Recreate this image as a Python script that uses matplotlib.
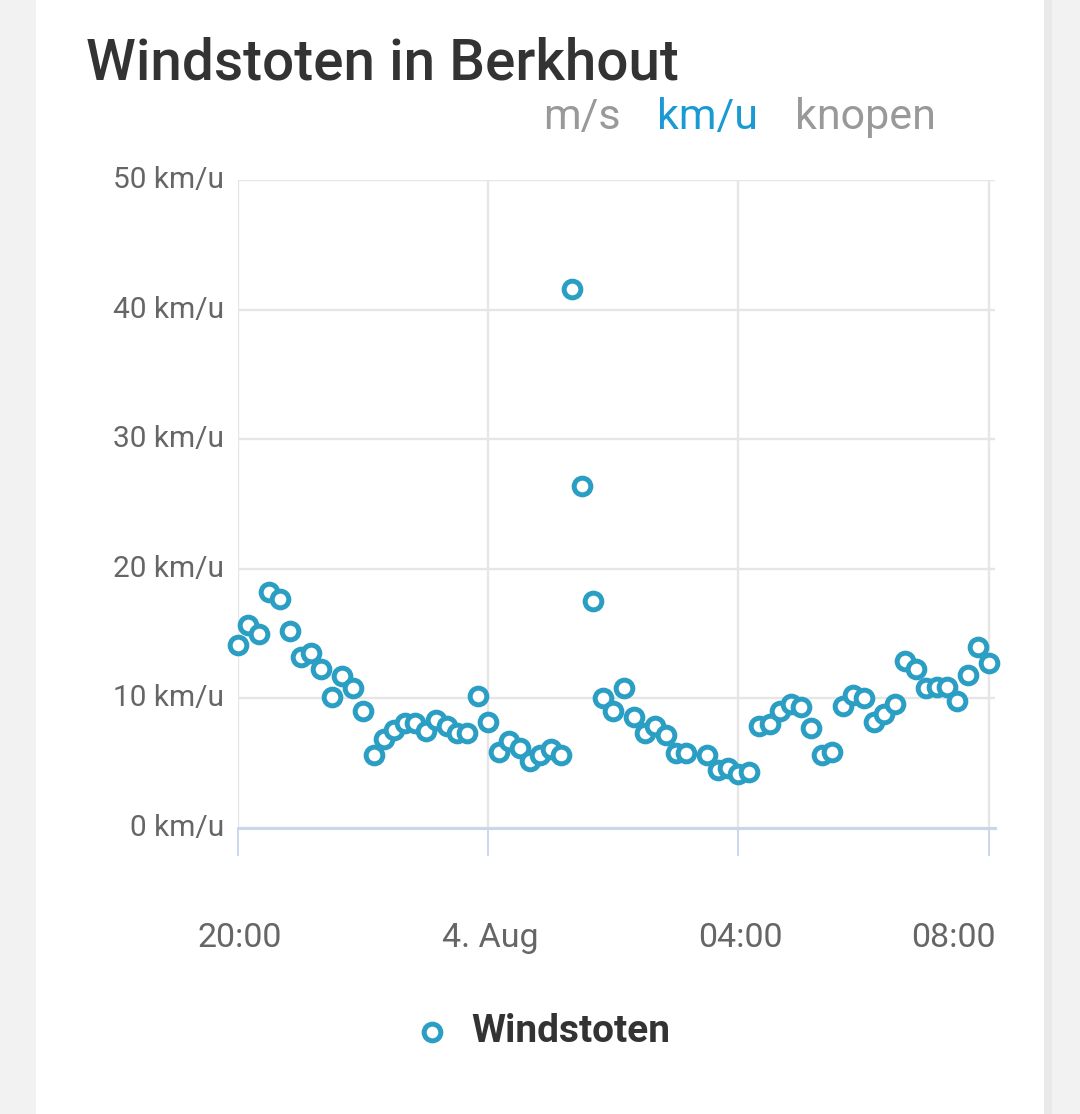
import matplotlib
matplotlib.use("Agg")
import matplotlib.pyplot as plt
import matplotlib.transforms as mtransforms
from matplotlib.patches import Rectangle
from matplotlib.lines import Line2D
import numpy as np

# ---------------- data ----------------
times = ["20:00", "20:10", "20:20", "20:30", "20:40", "20:50",
         "21:00", "21:10", "21:20", "21:30", "21:40", "21:50",
         "22:00", "22:10", "22:20", "22:30", "22:40", "22:50",
         "23:00", "23:10", "23:20", "23:30", "23:40", "23:50",
         "00:00", "00:10", "00:20", "00:30", "00:40", "00:50",
         "01:00", "01:10", "01:20", "01:30", "01:40", "01:50",
         "02:00", "02:10", "02:20", "02:30", "02:40", "02:50",
         "03:00", "03:10", "03:30", "03:40", "03:50",
         "04:00", "04:10", "04:20", "04:30", "04:40", "04:50",
         "05:00", "05:10", "05:20", "05:30", "05:40", "05:50",
         "06:00", "06:10", "06:20", "06:30", "06:40", "06:50",
         "07:00", "07:10", "07:20", "07:30", "07:40", "07:50",
         "08:00"]
gusts = [14.1, 15.7, 15.0, 18.2, 17.7, 15.2,
         13.2, 13.5, 12.3, 10.1, 11.7, 10.8,
         9.0, 5.6, 6.9, 7.6, 8.1, 8.1,
         7.5, 8.3, 7.9, 7.3, 7.3, 10.2,
         8.2, 5.9, 6.7, 6.2, 5.2, 5.6,
         6.1, 5.6, 41.6, 26.4, 17.5, 10.0,
         9.0, 10.8, 8.6, 7.3, 7.9, 7.2,
         5.8, 5.8, 5.6, 4.5, 4.6,
         4.2, 4.3, 7.9, 8.0, 9.0, 9.6,
         9.3, 7.7, 5.6, 5.9, 9.4, 10.3,
         10.0, 8.2, 8.8, 9.6, 12.9, 12.3,
         10.8, 10.9, 10.9, 9.8, 11.8, 14.0,
         12.7]
y_ticks = [0, 10, 20, 30, 40, 50]
y_tick_labels = ["0 km/u", "10 km/u", "20 km/u", "30 km/u", "40 km/u", "50 km/u"]
x_tick_times = ["20:00", "00:00", "04:00", "08:00"]
x_tick_labels = ["20:00", "4. Aug", "04:00", "08:00"]
title = "Windstoten in Berkhout"
units = ["m/s", "km/u", "knopen"]
series_name = "Windstoten"


def minutes_since_start(t, start="20:00"):
    h, m = map(int, t.split(":"))
    h0, m0 = map(int, start.split(":"))
    d = (h * 60 + m) - (h0 * 60 + m0)
    return d + 1440 if d < 0 else d


x = np.array([minutes_since_start(t) for t in times])
y = np.array(gusts)

# ---------------- style ----------------
W, H = 1080, 1114
DPI = 100
FONT = ["Roboto", "DejaVu Sans"]
plt.rcParams["font.family"] = FONT

MARK = "#2b9ec4"
GRID = "#e6e6e6"
AXIS = "#ccd6eb"
MS = 12
MEW = 3.6

fig = plt.figure(figsize=(W / DPI, H / DPI), dpi=DPI)
fig.patch.set_facecolor("#f2f2f2")


def fx(px):
    return px / W


def fy(py):
    return 1 - py / H


# white card + subtle right shadow
fig.add_artist(Rectangle((fx(1044), 0), fx(8), 1, transform=fig.transFigure,
                         facecolor="#e9e9e9", edgecolor="none", zorder=0))
fig.add_artist(Rectangle((fx(36), 0), fx(1044 - 36), 1, transform=fig.transFigure,
                         facecolor="white", edgecolor="none", zorder=0))

# axes
ax = fig.add_axes([fx(238), fy(828), fx(995 - 238), fy(180) - fy(828)])
ax.set_facecolor("none")
ax.set_xlim(0, 726)
ax.set_ylim(0, 50)

for s in ["top", "right", "left"]:
    ax.spines[s].set_visible(False)
ax.spines["bottom"].set_color(AXIS)
ax.spines["bottom"].set_linewidth(2.2)
ax.spines["bottom"].set_zorder(1)

xt = [minutes_since_start(t) for t in x_tick_times]
ax.set_xticks(xt)
ax.set_xticklabels([])
ax.set_yticks(y_ticks)
ax.set_yticklabels([])
ax.tick_params(axis="x", length=20, width=1.4, color=AXIS, direction="out")
ax.tick_params(axis="y", length=0)
ax.grid(True, color=GRID, linewidth=1.7, zorder=0)
ax.set_axisbelow(True)

# y tick labels
ytrans = mtransforms.blended_transform_factory(fig.transFigure, ax.transData)
for v, lab in zip(y_ticks, y_tick_labels):
    fig.text(fx(224), v, lab, transform=ytrans, ha="right", va="center",
             fontsize=21.5, color="#666666")

# x tick labels
xtrans = mtransforms.blended_transform_factory(ax.transData, fig.transFigure)
for i, (v, lab) in enumerate(zip(xt, x_tick_labels)):
    if i == len(xt) - 1:
        fig.text(fx(996), fy(938), lab, ha="right", va="center",
                 fontsize=24.5, color="#666666")
    else:
        ax.text(v + 2, fy(938), lab, transform=xtrans, ha="center", va="center",
                fontsize=24.5, color="#666666")

# data
ax.plot(x, y, linestyle="none", marker="o", markersize=MS,
        markerfacecolor="white", markeredgecolor=MARK, markeredgewidth=MEW,
        clip_on=False, zorder=3)

# title
fig.text(fx(86), fy(80), title, ha="left", va="baseline",
         fontsize=40.8, fontweight="medium", color="#333333")

# unit selector
unit_centers = [582, 707, 865]
unit_colors = ["#999999", "#1a9ad2", "#999999"]
for u, cx, c in zip(units, unit_centers, unit_colors):
    fig.text(fx(cx), fy(129), u, ha="center", va="baseline",
             fontsize=31, color=c)

# legend
fig.add_artist(Line2D([fx(432)], [fy(1032)], transform=fig.transFigure,
                      linestyle="none", marker="o", markersize=MS,
                      markerfacecolor="white", markeredgecolor=MARK,
                      markeredgewidth=MEW))
fig.text(fx(471), fy(1032), series_name, ha="left", va="center",
         fontsize=28, fontweight="bold", color="#333333")

fig.savefig("out.png", dpi=DPI, facecolor=fig.get_facecolor())
